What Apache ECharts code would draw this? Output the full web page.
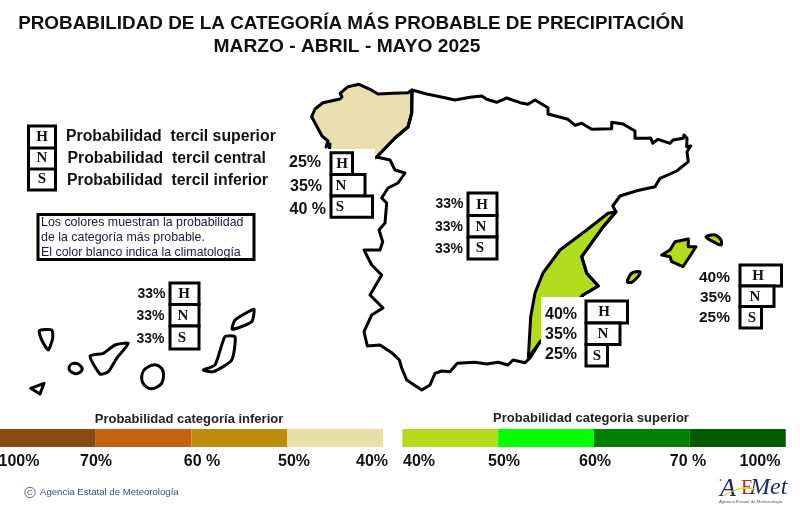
<!DOCTYPE html>
<html>
<head>
<meta charset="utf-8">
<style>
  html, body { margin: 0; padding: 0; background: #fff; }
  #chart { width: 800px; height: 520px; }
</style>
<script src="https://cdn.jsdelivr.net/npm/echarts@6/dist/echarts.min.js"></script>
</head>
<body>
<div id="chart"></div>
<script>
// Contornos (plano de 800x520)
const mainlandOutline = [[412,90],[426.7,94],[440,96.7],[455,100],[470,97.3],[481.7,96],[486.7,99.3],[496.7,102.3],[506.7,98],[520,102.7],[528,104.3],[535,100],[548,107.7],[548,114],[568,119.3],[575,125.3],[581.7,123.3],[591.7,129.3],[611.7,128.7],[611.7,122.3],[623,124],[635,131],[635,138.3],[646.7,138.3],[650.7,138],[652.7,143.3],[658,139.3],[670,143.3],[673,140],[683.3,138.3],[684,135],[687,138.3],[686.7,146.7],[690.7,146],[687,151.7],[688.3,161.7],[676.7,171],[660,178.3],[655,186.7],[636.7,190.7],[620,196],[612.7,206],[616,211.7],[603.3,226.7],[581.7,256.7],[586.7,273.3],[598.3,286],[583,295],[562,320],[540,342],[530,358],[525,362.7],[513,360],[508,365],[498,362.3],[486.7,364],[475,362.3],[457.3,363.3],[450,371.7],[441.7,371],[435,373.3],[430,385],[421.7,390],[406.7,380],[401.7,368],[399.3,360],[391.7,352.7],[380,345],[367.3,346],[364,331.7],[371.7,315],[383,308],[370,295],[381.7,275],[371.7,265],[364,250],[380,250],[382.7,241.7],[379,230],[385,223],[386.7,203],[381.7,198],[388,188],[398,183],[405,173],[395,170],[390,160],[376.7,157],[395,138],[408,127],[411.7,113]];
const galiciaOutline = [[330,144],[326,147],[328,141],[322,136],[315,123],[311.7,116.7],[315,109],[323,102.7],[340,99],[342,97],[340,93.3],[348,86.7],[359,84.3],[370,89.3],[378,94],[393,93.3],[408,92.7],[412,90],[411.7,113],[408,127],[395,138],[376.7,157],[350,170],[328,165]];
const sureste = [[616,211.7],[608,213.3],[586.7,230],[560,250],[543,273],[535,293],[530.7,316.7],[528.3,358],[540,342],[562,320],[583,295],[598.3,286],[586.7,273.3],[581.7,256.7],[603.3,226.7]];
const mallorca = [[661.7,255],[670,250],[675,241.7],[688.3,239],[688.3,246.7],[696,246.7],[683,266.7],[671.7,261.7],[670,256.7]];
const menorca = [[706,236.7],[715,235],[721,240],[721,245],[710,240]];
const ibiza = [[627.3,281.7],[631.7,273.3],[640,271.7],[638,276.7],[631.7,282.3]];
const laPalma = [[39.3,330.7],[51.7,330],[52.7,338],[48.3,350],[41.7,340]];
const gomera = [[69,368.3],[74,363.3],[81.7,367.3],[80,372.3],[74,373.3]];
const hierro = [[30.7,388.3],[44,383.3],[40,394]];
const tenerife = [[90,356],[103.3,353.3],[115,345],[128.3,343.3],[116.7,358.3],[108.3,371.7],[100,374]];
const granCanaria = [[141.7,376.7],[148.3,366.7],[160,366.7],[163.3,378.3],[156.7,387.3],[146.7,387.3]];
const fuerteventura = [[203.3,370],[215,365],[225,336.7],[235,336.7],[231.7,360],[213.3,371.7]];
const lanzarote = [[232.3,329.3],[235,320],[248.3,311.7],[254,309.3],[251.7,321.7]];

// Probabilidades por zona
const zonas = ['Galicia', 'Centro', 'Canarias', 'Sureste', 'Baleares'];
const probSuperior = ['25%', '33%', '33%', '40%', '40%'];
const probCentral = ['35%', '33%', '33%', '35%', '35%'];
const probInferior = ['40 %', '33%', '33%', '25%', '25%'];
const terciles = ['H', 'N', 'S'];

// Escalas de color
const clases = [1, 1, 1, 1];
const escalaInferior = ['100%', '70%', '60 %', '50%', '40%'];
const escalaSuperior = ['40%', '50%', '60%', '70 %', '100%'];

const colors = {
    tan: '#E9DEAE',
    lima: '#B4DC1E',
    inferior: ['#8A4A14', '#C4620F', '#BE8C0C', '#E6DFA8'],
    superior: ['#B4DA1E', '#00FF00', '#008000', '#005A00']
};

// Colocacion de las cajas de cada zona
const zonaLayout = [
    { left: 331, tops: [152.7, 174.5, 196, 217.3], labelRight: [321, 322, 326], labelY: [163, 187, 210], fontSize: 16, letterX: [342, 341, 340] },
    { left: 468, tops: [193, 215.5, 237, 259], labelRight: [463.5, 463, 463], labelY: [204.5, 227, 249.5], fontSize: 14, letterX: [482, 481, 480] },
    { left: 170, tops: [283, 304.5, 326, 349], labelRight: [165.5, 164.5, 164.5], labelY: [294.5, 316, 339.5], fontSize: 14, letterX: [184, 183, 182] },
    { left: 586, tops: [301, 323, 344.5, 366], labelRight: [577, 577, 577], labelY: [314.5, 334.5, 354.5], fontSize: 16, letterX: [604, 603, 597] },
    { left: 740, tops: [265, 286, 306.5, 328], labelRight: [730, 731, 730], labelY: [277.5, 297.5, 317.5], fontSize: 15.5, letterX: [758, 755, 752] }
];
const anchoCaja = { 25: 21.5, 33: 29, 35: 34, 40: 41.5 };

const chart = echarts.init(document.getElementById('chart'));

const mapShapes = [
    { points: sureste, fill: colors.lima },
    { points: galiciaOutline, fill: colors.tan },
    { points: mainlandOutline, fill: 'none' },
    { points: mallorca, fill: colors.lima },
    { points: menorca, fill: colors.lima, smooth: 0.3 },
    { points: ibiza, fill: colors.lima, smooth: 0.3 },
    { points: laPalma, fill: '#fff', smooth: 0.2 },
    { points: gomera, fill: '#fff', smooth: 0.5 },
    { points: hierro, fill: '#fff' },
    { points: tenerife, fill: '#fff', smooth: 0.2 },
    { points: granCanaria, fill: '#fff', smooth: 0.5 },
    { points: fuerteventura, fill: '#fff', smooth: 0.2 },
    { points: lanzarote, fill: '#fff', smooth: 0.2 }
];

// cajas H / N / S como datos: [zona, tercil]
const boxData = [];
zonas.forEach((z, i) => terciles.forEach((t, j) => boxData.push([i, j])));
const probs = [probSuperior, probCentral, probInferior];

function txt(text, x, y, font, fill, align) {
    return {
        type: 'text', x: x, y: y, z: 20,
        style: { text: text, font: font, fill: fill || '#111', textAlign: align || 'left', textVerticalAlign: 'middle' }
    };
}

const SANS = '"Liberation Sans", Arial, sans-serif';
const SERIF = '"Liberation Serif", "Times New Roman", serif';
const scaleFont = 'bold 16px ' + SANS;

const escalaXInf = [19, 96, 202, 294, 372];
const escalaXSup = [419, 504, 595, 688, 760];

const graphics = [
    txt('PROBABILIDAD DE LA CATEGORÍA MÁS PROBABLE DE PRECIPITACIÓN', 351, 24, 'bold 18.9px ' + SANS, '#111', 'center'),
    txt('MARZO - ABRIL - MAYO 2025', 347, 47, 'bold 19.2px ' + SANS, '#111', 'center'),

    // leyenda de terciles
    { type: 'rect', z: 20, shape: { x: 28.5, y: 126, width: 27, height: 64 }, style: { fill: '#fff', stroke: '#000', lineWidth: 3 } },
    { type: 'line', z: 20, shape: { x1: 28.5, y1: 148, x2: 55.5, y2: 148 }, style: { stroke: '#000', lineWidth: 3 } },
    { type: 'line', z: 20, shape: { x1: 28.5, y1: 169, x2: 55.5, y2: 169 }, style: { stroke: '#000', lineWidth: 3 } },
    txt('H', 42, 137, 'bold 15px ' + SERIF, '#111', 'center'),
    txt('N', 42, 158.5, 'bold 15px ' + SERIF, '#111', 'center'),
    txt('S', 42, 179.5, 'bold 15px ' + SERIF, '#111', 'center'),
    txt('Probabilidad  tercil superior', 66, 136.5, 'bold 15.8px ' + SANS),
    txt('Probabilidad  tercil central', 67.5, 158.5, 'bold 15.8px ' + SANS),
    txt('Probabilidad  tercil inferior', 67, 180.5, 'bold 15.8px ' + SANS),

    // nota
    { type: 'rect', z: 20, shape: { x: 38, y: 214.5, width: 216, height: 45 }, style: { fill: '#fff', stroke: '#000', lineWidth: 3 } },
    txt('Los colores muestran la probabilidad', 41, 223, '12.4px ' + SANS, '#1a1a3a'),
    txt('de la categoría más probable.', 41, 238, '12.4px ' + SANS, '#1a1a3a'),
    txt('El color blanco indica la climatología', 41, 252.5, '12.4px ' + SANS, '#1a1a3a'),

    // titulos de las escalas
    txt('Probabilidad categoría inferior', 189, 419.5, 'bold 13px ' + SANS, '#222', 'center'),
    txt('Probabilidad categoria superior', 591, 418.5, 'bold 13px ' + SANS, '#222', 'center'),

    // pie
    { type: 'circle', z: 20, shape: { cx: 30, cy: 492.5, r: 5.2 }, style: { fill: 'none', stroke: '#3a4a7a', lineWidth: 0.8 } },
    txt('C', 30, 492.5, '8px ' + SANS, '#3a4a7a', 'center'),
    txt('Agencia Estatal de Meteorología', 40, 492.5, '9.6px ' + SANS, '#3a4a7a'),

    // logo
    { type: 'circle', z: 21, shape: { cx: 720.5, cy: 480, r: 0.8 }, style: { fill: '#1a2a6a' } },
    txt('A', 720, 489, 'italic 26px ' + SERIF, '#1a2a6a'),
    txt('E', 741, 489, '20px ' + SERIF, '#C0281C'),
    txt('Met', 750, 488, 'italic 24px ' + SERIF, '#1a2a6a'),
    { type: 'polyline', z: 21, shape: { points: [[723, 496], [733, 491], [745, 488], [757, 490]], smooth: 0.5 }, style: { fill: 'none', stroke: '#D8D820', lineWidth: 1.3 } },
    txt('Agencia Estatal de Meteorología', 719, 501.5, '4.4px ' + SANS, '#555')
];
escalaInferior.forEach((s, i) => graphics.push(txt(s, escalaXInf[i], 462, scaleFont, '#111', 'center')));
escalaSuperior.forEach((s, i) => graphics.push(txt(s, escalaXSup[i], 462, scaleFont, '#111', 'center')));

function scaleSeries(palette, axisIndex) {
    return clases.map((v, i) => ({
        type: 'bar', stack: 'escala' + axisIndex, xAxisIndex: axisIndex, yAxisIndex: axisIndex,
        data: [v], barWidth: '100%', silent: true,
        itemStyle: { color: palette[i] }
    }));
}

const hiddenValue = { type: 'value', min: 0, max: 4, show: false };
const hiddenCat = { type: 'category', data: [''], show: false };

const option = {
    backgroundColor: '#fff',
    animation: false,
    grid: [
        { left: 0, top: 0, width: 800, height: 520 },
        { left: 0, top: 429, width: 383, height: 18 },
        { left: 402.3, top: 429, width: 383.4, height: 18 }
    ],
    xAxis: [
        { type: 'value', min: 0, max: 800, show: false, gridIndex: 0 },
        Object.assign({ gridIndex: 1 }, hiddenValue),
        Object.assign({ gridIndex: 2 }, hiddenValue)
    ],
    yAxis: [
        { type: 'value', min: 0, max: 520, inverse: true, show: false, gridIndex: 0 },
        Object.assign({ gridIndex: 1 }, hiddenCat),
        Object.assign({ gridIndex: 2 }, hiddenCat)
    ],
    graphic: { elements: graphics },
    series: [
        {
            // mapa
            type: 'custom', coordinateSystem: 'cartesian2d', clip: false, silent: true, z: 2,
            data: mapShapes.map((s, i) => [i, 0]),
            renderItem: function (params, api) {
                const s = mapShapes[params.dataIndex];
                return {
                    type: 'polygon',
                    shape: { points: s.points.map(p => api.coord(p)), smooth: s.smooth || 0 },
                    style: { fill: s.fill, stroke: '#000', lineWidth: 3, lineJoin: 'round' }
                };
            }
        },
        {
            // fondos blancos de las etiquetas
            type: 'custom', coordinateSystem: 'cartesian2d', clip: false, silent: true, z: 3,
            data: [[285, 149, 375, 218], [541, 297, 628, 368]],
            renderItem: function (params, api) {
                const a = api.coord([api.value(0), api.value(1)]);
                const b = api.coord([api.value(2), api.value(3)]);
                return {
                    type: 'rect',
                    shape: { x: a[0], y: a[1], width: b[0] - a[0], height: b[1] - a[1] },
                    style: { fill: '#fff' }
                };
            }
        },
        {
            // cajas H N S con su porcentaje
            type: 'custom', coordinateSystem: 'cartesian2d', clip: false, silent: true, z: 4,
            data: boxData,
            renderItem: function (params, api) {
                const zona = api.value(0), t = api.value(1);
                const lay = zonaLayout[zona];
                const label = probs[t][zona];
                const w = anchoCaja[parseInt(label)];
                const tl = api.coord([lay.left, lay.tops[t]]);
                const br = api.coord([lay.left + w, lay.tops[t + 1]]);
                const lab = api.coord([lay.labelRight[t], lay.labelY[t]]);
                return {
                    type: 'group',
                    children: [
                        { type: 'rect', shape: { x: tl[0], y: tl[1], width: br[0] - tl[0], height: br[1] - tl[1] }, style: { fill: '#fff', stroke: '#000', lineWidth: 3 } },
                        { type: 'text', x: lay.letterX[t], y: (tl[1] + br[1]) / 2 + 0.5, style: { text: terciles[t], font: 'bold 15px ' + SERIF, fill: '#111', textAlign: 'center', textVerticalAlign: 'middle' } },
                        { type: 'text', x: lab[0], y: lab[1], style: { text: label, font: 'bold ' + lay.fontSize + 'px ' + SANS, fill: '#111', textAlign: 'right', textVerticalAlign: 'middle' } }
                    ]
                };
            }
        }
    ].concat(scaleSeries(colors.inferior, 1), scaleSeries(colors.superior, 2))
};

chart.setOption(option);
</script>
</body>
</html>
